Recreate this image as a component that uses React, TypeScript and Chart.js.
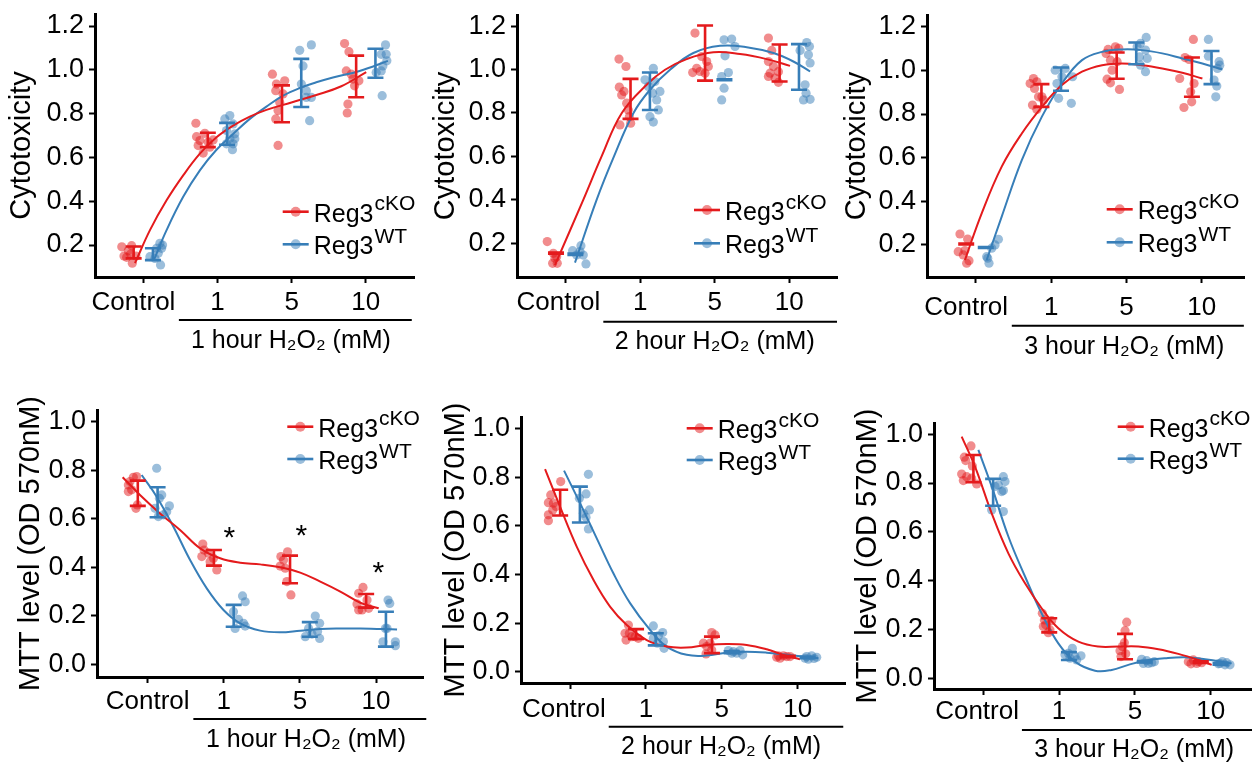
import React, { useEffect, useRef } from 'react';
import { Chart, registerables } from 'chart.js';

Chart.register(...registerables);

const FONT = '"Liberation Sans", Arial, "DejaVu Sans", sans-serif';
Chart.defaults.font.family = FONT;

const RED = '#E41A1C';
const BLUE = '#377EB8';
const RED_PT = 'rgba(228,26,28,0.5)';
const BLUE_PT = 'rgba(55,126,184,0.5)';

// ---------- shared labels ----------
const categories = ['Control', '1', '5', '10'];
const cytoTicks = [0.2, 0.4, 0.6, 0.8, 1.0, 1.2];
const mttTicks = [0.0, 0.2, 0.4, 0.6, 0.8, 1.0];
const cytoTitle = 'Cytotoxicity';
const mttTitle = 'MTT level (OD 570nM)';
const xTitle1 = '1 hour H₂O₂ (mM)';
const xTitle2 = '2 hour H₂O₂ (mM)';
const xTitle3 = '3 hour H₂O₂ (mM)';
const legendBase = 'Reg3';
const legendSupRed = 'cKO';
const legendSupBlue = 'WT';

// ---------- Panel 1: cytotoxicity, 1 hour ----------
const p1RedPts = [
  [-0.29, 0.192], [-0.157, 0.197], [-0.26, 0.15], [-0.148, 0.117], [-0.202, 0.174], [-0.099, 0.15], [-0.17, 0.159], [-0.224, 0.144],
  [0.709, 0.756], [0.718, 0.695], [0.83, 0.71], [0.763, 0.677], [0.875, 0.67], [0.808, 0.62], [0.942, 0.68], [0.74, 0.654], [0.897, 0.647],
  [1.741, 0.98], [1.795, 0.935], [1.786, 0.905], [1.84, 0.851], [1.817, 0.814], [1.786, 0.776], [1.817, 0.655], [1.884, 0.89], [1.907, 0.95],
  [2.714, 1.12], [2.773, 1.083], [2.737, 0.995], [2.827, 0.958], [2.849, 0.927], [2.907, 0.95], [2.759, 0.844], [2.75, 0.803], [2.804, 0.98],
];
const p1BluePts = [
  [0.224, 0.208], [0.18, 0.185], [0.247, 0.185], [0.09, 0.147], [0.202, 0.162], [0.233, 0.109], [0.157, 0.139], [0.26, 0.2],
  [1.099, 0.776], [1.167, 0.791], [1.211, 0.753], [1.122, 0.723], [1.234, 0.708], [1.167, 0.685], [1.211, 0.662], [1.122, 0.662], [1.202, 0.635], [1.234, 0.685],
  [2.109, 1.089], [2.266, 1.114], [2.154, 1.018], [2.198, 0.905], [2.266, 0.874], [2.198, 0.874], [2.243, 0.768], [2.131, 0.935],
  [3.266, 1.114], [3.208, 1.071], [3.275, 1.071], [3.23, 1.018], [3.14, 0.988], [3.208, 0.995], [3.221, 0.882], [3.284, 1.041],
];
const p1RedMean = [0.166, 0.68, 0.845, 0.97];
const p1RedSd = [0.027, 0.033, 0.084, 0.095];
const p1BlueMean = [0.158, 0.708, 0.94, 1.03];
const p1BlueSd = [0.027, 0.05, 0.11, 0.066];
const p1RedCurve = [
  [-0.112, 0.117], [0.09, 0.268], [0.314, 0.404], [0.538, 0.518], [0.763, 0.617], [0.987, 0.692], [1.211, 0.745],
  [1.436, 0.786], [1.66, 0.817], [1.997, 0.851], [2.333, 0.885], [2.67, 0.925], [3.006, 0.99],
];
const p1BlueCurve = [
  [0.144, 0.132], [0.314, 0.268], [0.538, 0.42], [0.763, 0.541], [0.987, 0.635], [1.211, 0.707], [1.436, 0.776],
  [1.66, 0.832], [1.884, 0.882], [2.109, 0.917], [2.333, 0.943], [2.557, 0.965], [2.916, 0.995], [3.298, 1.041],
];

// ---------- Panel 2: cytotoxicity, 2 hour ----------
const p2RedPts = [
  [-0.247, 0.208], [-0.166, 0.154], [-0.121, 0.138], [-0.175, 0.108], [-0.113, 0.108], [-0.144, 0.131],
  [0.715, 1.048], [0.809, 1.014], [0.72, 0.919], [0.751, 0.883], [0.782, 0.899], [0.818, 0.845], [0.84, 0.814], [0.728, 0.745], [0.872, 0.753], [0.854, 0.783],
  [1.735, 1.168], [1.825, 1.06], [1.892, 1.037], [1.758, 1.006], [1.802, 0.991], [1.704, 0.986], [1.87, 0.983], [1.914, 1.014],
  [2.72, 1.145], [2.764, 1.088], [2.72, 1.037], [2.787, 1.014], [2.72, 0.968], [2.809, 0.961], [2.854, 0.941], [2.742, 0.983], [2.854, 0.99],
];
const p2BluePts = [
  [0.093, 0.166], [0.205, 0.189], [0.236, 0.146], [0.272, 0.105], [0.147, 0.146], [0.192, 0.162],
  [1.176, 1.006], [1.064, 0.953], [1.198, 0.945], [1.265, 0.899], [1.167, 0.891], [1.221, 0.86], [1.243, 0.814], [1.131, 0.783], [1.176, 0.758], [1.109, 0.922],
  [2.125, 1.137], [2.227, 1.14], [2.272, 1.106], [2.138, 1.063], [2.183, 0.986], [2.093, 0.968], [2.125, 0.914], [2.093, 0.86],
  [3.234, 1.124], [3.27, 1.106], [3.145, 1.088], [3.257, 1.068], [3.279, 1.03], [3.212, 0.93], [3.19, 0.86], [3.279, 0.863], [3.225, 0.891],
];
const p2RedMean = [0.155, 0.865, 1.076, 1.03];
const p2RedSd = [0.003, 0.092, 0.127, 0.085];
const p2BlueMean = [0.15, 0.9, 0.953, 1.012];
const p2BlueSd = [0.003, 0.086, 0.002, 0.105];
const p2RedCurve = [
  [-0.144, 0.1], [0.236, 0.4], [0.482, 0.6], [0.751, 0.799], [1.086, 0.93], [1.333, 0.999],
  [1.623, 1.048], [1.981, 1.079], [2.339, 1.071], [2.697, 1.048], [3.01, 1.017],
];
const p2BlueCurve = [
  [0.125, 0.111], [0.415, 0.4], [0.648, 0.6], [0.908, 0.799], [1.131, 0.907], [1.4, 0.999],
  [1.713, 1.076], [2.071, 1.109], [2.429, 1.103], [2.787, 1.076], [3.055, 1.037], [3.279, 0.991],
];

// ---------- Panel 3: cytotoxicity, 3 hour ----------
const p3RedPts = [
  [-0.213, 0.25], [-0.111, 0.227], [-0.236, 0.169], [-0.147, 0.174], [-0.169, 0.154], [-0.124, 0.116], [-0.093, 0.128],
  [0.72, 0.94], [0.764, 0.963], [0.809, 0.948], [0.778, 0.917], [0.831, 0.879], [0.876, 0.879], [0.751, 0.841], [0.809, 0.821], [0.898, 0.864],
  [1.756, 1.096], [1.853, 1.108], [1.898, 1.101], [1.729, 1.078], [1.787, 1.047], [1.809, 1.001], [1.742, 0.96], [1.787, 0.943], [1.907, 0.913], [1.876, 1.04],
  [2.889, 1.142], [2.778, 1.059], [2.831, 1.05], [2.707, 0.963], [2.898, 0.94], [2.853, 0.902], [2.764, 0.83], [2.867, 0.856],
];
const p3BluePts = [
  [0.142, 0.146], [0.173, 0.116], [0.253, 0.2], [0.298, 0.226], [0.209, 0.185], [0.156, 0.139],
  [1.053, 1.001], [1.187, 1.009], [1.284, 0.971], [1.142, 0.971], [1.098, 0.872], [1.267, 0.849], [1.076, 0.94],
  [2.262, 1.151], [2.187, 1.124], [2.253, 1.093], [2.173, 1.062], [2.276, 1.055], [2.187, 1.024], [2.253, 0.994], [2.142, 1.108],
  [3.089, 1.142], [3.089, 1.065], [3.231, 1.04], [3.209, 1.009], [3.164, 0.956], [3.2, 0.928], [3.187, 0.879], [3.24, 1.024],
];
const p3RedMean = [0.204, 0.885, 1.022, 0.969];
const p3RedSd = [0.002, 0.052, 0.06, 0.09];
const p3BlueMean = [0.188, 0.96, 1.078, 1.013];
const p3BlueSd = [0.002, 0.053, 0.05, 0.076];
const p3RedCurve = [
  [-0.147, 0.131], [0.076, 0.345], [0.342, 0.559], [0.609, 0.711], [0.876, 0.833], [1.142, 0.933], [1.409, 0.994], [1.676, 1.024],
  [1.942, 1.032], [2.209, 1.024], [2.476, 1.009], [2.742, 0.989], [3.009, 0.963],
];
const p3BlueCurve = [
  [0.142, 0.131], [0.342, 0.33], [0.609, 0.589], [0.876, 0.788], [1.142, 0.94], [1.409, 1.047], [1.676, 1.085], [1.942, 1.096],
  [2.209, 1.093], [2.476, 1.078], [2.742, 1.055], [3.009, 1.032], [3.276, 1.004],
];

// ---------- Panel 4: MTT, 1 hour ----------
const p4RedPts = [
  [-0.254, 0.712], [-0.189, 0.771], [-0.145, 0.774], [-0.254, 0.739], [-0.211, 0.719], [-0.154, 0.643], [-0.136, 0.657], [-0.232, 0.753],
  [0.724, 0.496], [0.711, 0.444], [0.798, 0.458], [0.82, 0.423], [0.864, 0.437], [0.908, 0.389], [0.741, 0.471],
  [1.838, 0.464], [1.75, 0.444], [1.741, 0.405], [1.807, 0.396], [1.829, 0.341], [1.882, 0.286], [1.785, 0.43],
  [2.829, 0.317], [2.772, 0.293], [2.882, 0.265], [2.75, 0.249], [2.816, 0.224], [2.903, 0.231], [2.772, 0.224],
];
const p4BluePts = [
  [0.118, 0.808], [0.154, 0.684], [0.096, 0.643], [0.25, 0.629], [0.285, 0.653], [0.206, 0.616], [0.14, 0.609], [0.184, 0.698],
  [1.246, 0.282], [1.281, 0.258], [1.127, 0.217], [1.193, 0.185], [1.259, 0.169], [1.149, 0.148], [1.281, 0.158],
  [2.202, 0.199], [2.259, 0.169], [2.232, 0.135], [2.259, 0.107], [2.114, 0.148], [2.158, 0.125], [2.07, 0.114],
  [3.158, 0.265], [3.18, 0.251], [3.123, 0.148], [3.092, 0.093], [3.254, 0.093], [3.254, 0.077], [3.145, 0.148],
];
const p4RedMean = [0.705, 0.439, 0.391, 0.262];
const p4RedSd = [0.052, 0.032, 0.057, 0.028];
const p4BlueMean = [0.668, 0.2, 0.144, 0.145];
const p4BlueSd = [0.062, 0.045, 0.03, 0.072];
const p4RedCurve = [
  [-0.329, 0.771], [-0.101, 0.698], [0.162, 0.622], [0.425, 0.554], [0.689, 0.478], [0.952, 0.437], [1.215, 0.419], [1.478, 0.412],
  [1.741, 0.4], [2.004, 0.378], [2.268, 0.341], [2.531, 0.3], [2.794, 0.254], [3.035, 0.231],
];
const p4BlueCurve = [
  [-0.079, 0.78], [0.118, 0.691], [0.338, 0.567], [0.557, 0.43], [0.776, 0.313], [0.996, 0.224], [1.215, 0.169], [1.478, 0.139],
  [1.741, 0.132], [2.004, 0.139], [2.268, 0.146], [2.531, 0.148], [2.794, 0.148], [3.276, 0.144],
];
const p4StarX = [1.074, 2.017, 3.03];
const p4StarY = [0.554, 0.562, 0.409];

// ---------- Panel 5: MTT, 2 hour ----------
const p5RedPts = [
  [-0.123, 0.783], [-0.254, 0.728], [-0.285, 0.696], [-0.219, 0.694], [-0.184, 0.68], [-0.285, 0.646], [-0.285, 0.622], [-0.228, 0.666],
  [0.769, 0.192], [0.725, 0.158], [0.782, 0.158], [0.857, 0.144], [0.738, 0.13], [0.9, 0.137], [0.813, 0.144],
  [1.867, 0.161], [1.911, 0.151], [1.757, 0.117], [1.801, 0.103], [1.867, 0.089], [1.792, 0.073], [1.845, 0.117],
  [2.745, 0.065], [2.811, 0.065], [2.855, 0.062], [2.767, 0.055], [2.899, 0.062], [2.723, 0.059],
];
const p5BluePts = [
  [0.242, 0.813], [0.211, 0.732], [0.123, 0.714], [0.255, 0.666], [0.211, 0.636], [0.242, 0.588], [0.176, 0.652],
  [1.098, 0.188], [1.221, 0.161], [1.164, 0.147], [1.098, 0.137], [1.23, 0.124], [1.239, 0.096], [1.151, 0.117],
  [2.086, 0.087], [2.152, 0.082], [2.24, 0.087], [2.275, 0.069], [2.196, 0.076], [2.13, 0.076],
  [3.096, 0.055], [3.184, 0.065], [3.25, 0.059], [3.14, 0.051], [3.215, 0.054], [3.118, 0.062],
];
const p5RedMean = [0.696, 0.155, 0.11, 0.062];
const p5RedSd = [0.053, 0.02, 0.034, 0.003];
const p5BlueMean = [0.688, 0.133, 0.08, 0.058];
const p5BlueSd = [0.074, 0.025, 0.004, 0.003];
const p5RedCurve = [
  [-0.329, 0.834], [-0.132, 0.68], [0.088, 0.515], [0.308, 0.378], [0.527, 0.268], [0.747, 0.192], [1.01, 0.13], [1.274, 0.103],
  [1.537, 0.099], [1.801, 0.11], [2.064, 0.114], [2.328, 0.11], [2.592, 0.092], [2.811, 0.069], [3.03, 0.051],
];
const p5BlueCurve = [
  [-0.079, 0.828], [0.132, 0.694], [0.352, 0.549], [0.571, 0.405], [0.791, 0.282], [1.054, 0.172], [1.274, 0.103], [1.537, 0.069],
  [1.801, 0.066], [2.064, 0.078], [2.328, 0.082], [2.592, 0.078], [2.855, 0.069], [3.272, 0.055],
];

// ---------- Panel 6: MTT, 3 hour ----------
const p6RedPts = [
  [-0.162, 0.952], [-0.25, 0.906], [-0.232, 0.892], [-0.144, 0.87], [-0.285, 0.837], [-0.263, 0.81], [-0.153, 0.82], [-0.087, 0.796], [-0.219, 0.826],
  [0.779, 0.266], [0.806, 0.239], [0.902, 0.236], [0.823, 0.219], [0.88, 0.198], [0.858, 0.187], [0.792, 0.212],
  [1.892, 0.23], [1.87, 0.195], [1.835, 0.13], [1.804, 0.113], [1.879, 0.1], [1.817, 0.089], [1.861, 0.146],
  [2.705, 0.068], [2.771, 0.075], [2.837, 0.068], [2.881, 0.064], [2.74, 0.059], [2.815, 0.061],
];
const p6BluePts = [
  [0.265, 0.826], [0.287, 0.806], [0.199, 0.792], [0.243, 0.765], [0.265, 0.769], [0.111, 0.69], [0.265, 0.683], [0.155, 0.786],
  [1.175, 0.123], [1.122, 0.102], [1.078, 0.096], [1.21, 0.089], [1.289, 0.092], [1.144, 0.082], [1.232, 0.075],
  [2.09, 0.078], [2.156, 0.072], [2.222, 0.064], [2.112, 0.061], [2.257, 0.068], [2.178, 0.061],
  [3.101, 0.059], [3.154, 0.068], [3.211, 0.064], [3.255, 0.055], [3.189, 0.055], [3.123, 0.061],
];
const p6RedMean = [0.859, 0.217, 0.13, 0.066];
const p6RedSd = [0.056, 0.029, 0.052, 0.003];
const p6BlueMean = [0.762, 0.091, 0.068, 0.059];
const p6BlueSd = [0.055, 0.016, 0.003, 0.003];
const p6RedCurve = [
  [-0.285, 0.99], [-0.109, 0.867], [0.111, 0.676], [0.331, 0.512], [0.551, 0.389], [0.77, 0.287], [0.99, 0.205], [1.254, 0.15],
  [1.518, 0.13], [1.782, 0.13], [2.046, 0.13], [2.31, 0.119], [2.573, 0.1], [2.837, 0.075], [3.013, 0.055],
];
const p6BlueCurve = [
  [-0.065, 0.936], [0.111, 0.786], [0.331, 0.581], [0.551, 0.417], [0.77, 0.266], [0.99, 0.143], [1.21, 0.068], [1.474, 0.031],
  [1.694, 0.034], [1.914, 0.055], [2.134, 0.072], [2.398, 0.082], [2.661, 0.086], [2.925, 0.078], [3.277, 0.061],
];

// ---------- layout constants ----------
const YW = 100; // width of y-axis box (labels + title)
const PT = 30; // canvas space above the plot area
const PR = 12; // canvas space right of plot area
const XH = 90; // space below the plot area
const DODGE = 0.13;
const CAP = 8;
const SP = ' ';
const THIN = '\u2009';

const panels: any[] = [
  {
    L: 95, T: 14, R: 414, B: 277, xMin: -0.651, xMax: 3.65, yMin: 0.054, yMax: 1.255, yTicks: cytoTicks, yTitle: cytoTitle,
    yTitleOff: 73.3, tickOff: 26, ctrlPad: SP + SP + THIN, br: [0.48, 3.62], brDy: 43, xTitle: xTitle1, titleCx: 1.99, titleDy: 64,
    legX: 187.7, legY: 197.7, legGap: 32.6,
    redPts: p1RedPts, bluePts: p1BluePts, redMean: p1RedMean, redSd: p1RedSd, blueMean: p1BlueMean, blueSd: p1BlueSd,
    redCurve: p1RedCurve, blueCurve: p1BlueCurve,
  },
  {
    L: 517, T: 15, R: 837, B: 277, xMin: -0.653, xMax: 3.64, yMin: 0.045, yMax: 1.251, yTicks: cytoTicks, yTitle: cytoTitle,
    yTitleOff: 70.7, tickOff: 26, ctrlPad: SP + SP, br: [0.505, 3.64], brDy: 44.7, xTitle: xTitle2, titleCx: 2.0, titleDy: 65,
    legX: 177, legY: 195, legGap: 33.3,
    redPts: p2RedPts, bluePts: p2BluePts, redMean: p2RedMean, redSd: p2RedSd, blueMean: p2BlueMean, blueSd: p2BlueSd,
    redCurve: p2RedCurve, blueCurve: p2BlueCurve,
  },
  {
    L: 927, T: 15, R: 1244, B: 277, xMin: -0.651, xMax: 3.562, yMin: 0.053, yMax: 1.254, yTicks: cytoTicks, yTitle: cytoTitle,
    yTitleOff: 70.3, tickOff: 31.3, ctrlPad: SP + SP + THIN, br: [0.476, 3.56], brDy: 48.7, xTitle: xTitle3, titleCx: 1.97, titleDy: 69.7,
    legX: 179.7, legY: 194.3, legGap: 33,
    redPts: p3RedPts, bluePts: p3BluePts, redMean: p3RedMean, redSd: p3RedSd, blueMean: p3BlueMean, blueSd: p3BlueSd,
    redCurve: p3RedCurve, blueCurve: p3BlueCurve,
  },
  {
    L: 97, T: 410, R: 423, B: 677, xMin: -0.666, xMax: 3.617, yMin: -0.052, yMax: 1.048, yTicks: mttTicks, yTitle: mttTitle,
    yTitleOff: 66.2, tickOff: 24.7, ctrlPad: '', br: [0.6, 3.66], brDy: 42, xTitle: xTitle1, titleCx: 2.08, titleDy: 63,
    legX: 190.3, legY: 16.7, legGap: 32.3,
    redPts: p4RedPts, bluePts: p4BluePts, redMean: p4RedMean, redSd: p4RedSd, blueMean: p4BlueMean, blueSd: p4BlueSd,
    redCurve: p4RedCurve, blueCurve: p4BlueCurve, starX: p4StarX, starY: p4StarY,
  },
  {
    L: 521, T: 417, R: 845, B: 683, xMin: -0.646, xMax: 3.623, yMin: -0.047, yMax: 1.049, yTicks: mttTicks, yTitle: mttTitle,
    yTitleOff: 65.5, tickOff: 27, ctrlPad: SP + THIN, br: [0.51, 3.6], brDy: 43.7, xTitle: xTitle2, titleCx: 1.99, titleDy: 63.7,
    legX: 165.7, legY: 11.3, legGap: 31.7,
    redPts: p5RedPts, bluePts: p5BluePts, redMean: p5RedMean, redSd: p5RedSd, blueMean: p5BlueMean, blueSd: p5BlueSd,
    redCurve: p5RedCurve, blueCurve: p5BlueCurve,
  },
  {
    L: 934, T: 423, R: 1252, B: 689, xMin: -0.65, xMax: 3.545, yMin: -0.044, yMax: 1.046, yTicks: mttTicks, yTitle: mttTitle,
    yTitleOff: 66.5, tickOff: 22.7, ctrlPad: SP + THIN, br: [0.51, 3.6], brDy: 41, xTitle: xTitle3, titleCx: 1.99, titleDy: 61,
    legX: 183.7, legY: 3.7, legGap: 32,
    redPts: p6RedPts, bluePts: p6BluePts, redMean: p6RedMean, redSd: p6RedSd, blueMean: p6BlueMean, blueSd: p6BlueSd,
    redCurve: p6RedCurve, blueCurve: p6BlueCurve,
  },
];

const Y_TICK_SIZE = 27;
const X_TICK_SIZE = 26;
const Y_TITLE_SIZE = 29;
const X_TITLE_SIZE = 25;
const LEG_SIZE = 25;
const SUP_SIZE = 21;

function makeOverlay(p: any) {
  return {
    id: 'overlay',
    afterDatasetsDraw(chart: any) {
      const { ctx } = chart;
      const xs = chart.scales.x;
      const ys = chart.scales.y;
      const groups = [
        { mean: p.redMean, sd: p.redSd, color: RED, dodge: -DODGE },
        { mean: p.blueMean, sd: p.blueSd, color: BLUE, dodge: DODGE },
      ];
      ctx.save();
      for (const g of groups) {
        ctx.strokeStyle = g.color;
        ctx.lineWidth = 2.6;
        g.mean.forEach((m: number, i: number) => {
          const px = xs.getPixelForValue(i + g.dodge);
          const hi = ys.getPixelForValue(m + g.sd[i]);
          const lo = ys.getPixelForValue(m - g.sd[i]);
          ctx.beginPath();
          ctx.moveTo(px, hi);
          ctx.lineTo(px, lo);
          ctx.moveTo(px - CAP, hi);
          ctx.lineTo(px + CAP, hi);
          ctx.moveTo(px - CAP, lo);
          ctx.lineTo(px + CAP, lo);
          ctx.stroke();
        });
      }
      ctx.restore();
    },
    afterDraw(chart: any) {
      const { ctx, chartArea } = chart;
      const xs = chart.scales.x;
      const ys = chart.scales.y;
      ctx.save();
      // legend
      const rows = [
        { line: RED, pt: RED_PT, sup: legendSupRed },
        { line: BLUE, pt: BLUE_PT, sup: legendSupBlue },
      ];
      rows.forEach((r, i) => {
        const y = chartArea.top + p.legY + i * p.legGap;
        const x0 = chartArea.left + p.legX;
        ctx.strokeStyle = r.line;
        ctx.lineWidth = 2.6;
        ctx.beginPath();
        ctx.moveTo(x0, y);
        ctx.lineTo(x0 + 26, y);
        ctx.stroke();
        ctx.fillStyle = r.pt;
        ctx.beginPath();
        ctx.arc(x0 + 13, y, 5, 0, Math.PI * 2);
        ctx.fill();
        ctx.fillStyle = '#000';
        ctx.textAlign = 'left';
        ctx.textBaseline = 'alphabetic';
        ctx.font = `${LEG_SIZE}px ${FONT}`;
        ctx.fillText(legendBase, x0 + 31, y + 10);
        const w = ctx.measureText(legendBase).width;
        ctx.font = `${SUP_SIZE}px ${FONT}`;
        ctx.fillText(r.sup, x0 + 32 + w, y - 1.5);
      });
      // bracket under dose ticks
      const by = chartArea.bottom + p.brDy;
      ctx.strokeStyle = '#000';
      ctx.lineWidth = 2;
      ctx.beginPath();
      ctx.moveTo(xs.getPixelForValue(p.br[0]), by);
      ctx.lineTo(xs.getPixelForValue(p.br[1]), by);
      ctx.stroke();
      // x title
      ctx.fillStyle = '#000';
      ctx.font = `${X_TITLE_SIZE}px ${FONT}`;
      ctx.textAlign = 'center';
      ctx.textBaseline = 'middle';
      ctx.fillText(p.xTitle, xs.getPixelForValue(p.titleCx), chartArea.bottom + p.titleDy);
      // significance stars
      if (p.starX) {
        ctx.font = `30px ${FONT}`;
        ctx.textBaseline = 'alphabetic';
        p.starX.forEach((sx: number, i: number) => {
          ctx.fillText('*', xs.getPixelForValue(sx), ys.getPixelForValue(p.starY[i]) + 17);
        });
      }
      ctx.restore();
    },
  };
}

function Panel({ p }: { p: any }) {
  const ref = useRef<HTMLCanvasElement>(null);
  const W = YW + (p.R - p.L) + PR;
  const H = PT + (p.B - p.T) + XH;
  useEffect(() => {
    const canvas = ref.current;
    if (!canvas) return;
    const toXY = (arr: number[][]) => arr.map(([x, y]) => ({ x, y }));
    const chart = new Chart(canvas, {
      type: 'scatter',
      data: {
        datasets: [
          { type: 'line', data: toXY(p.redCurve), borderColor: RED, borderWidth: 2, pointRadius: 0, tension: 0.4, fill: false },
          { type: 'line', data: toXY(p.blueCurve), borderColor: BLUE, borderWidth: 2, pointRadius: 0, tension: 0.4, fill: false },
          { type: 'scatter', data: toXY(p.redPts), pointRadius: 4.6, pointBackgroundColor: RED_PT, pointBorderWidth: 0, borderColor: 'rgba(0,0,0,0)' },
          { type: 'scatter', data: toXY(p.bluePts), pointRadius: 4.6, pointBackgroundColor: BLUE_PT, pointBorderWidth: 0, borderColor: 'rgba(0,0,0,0)' },
        ],
      } as any,
      options: {
        responsive: false,
        animation: false,
        events: [],
        layout: { padding: { left: 0, top: PT, right: PR, bottom: 0 } },
        plugins: { legend: { display: false }, tooltip: { enabled: false } },
        scales: {
          x: {
            type: 'linear',
            min: p.xMin,
            max: p.xMax,
            afterBuildTicks: (s: any) => {
              s.ticks = categories.map((_, i) => ({ value: i }));
            },
            afterFit: (s: any) => {
              s.height = XH;
            },
            ticks: {
              callback: (v: any) => {
                const i = Math.round(v);
                return i === 0 ? categories[0] + p.ctrlPad : categories[i];
              },
              font: { size: X_TICK_SIZE, family: FONT },
              color: '#000',
              padding: p.tickOff - 6 - X_TICK_SIZE * 0.6,
              autoSkip: false,
              maxRotation: 0,
            },
            grid: { display: true, drawOnChartArea: false, drawTicks: true, tickLength: 6, tickWidth: 2, tickColor: '#000' },
            border: { display: true, color: '#000', width: 3 },
          },
          y: {
            type: 'linear',
            min: p.yMin,
            max: p.yMax,
            afterBuildTicks: (s: any) => {
              s.ticks = p.yTicks.map((v: number) => ({ value: v }));
            },
            afterFit: (s: any) => {
              s.width = YW;
            },
            ticks: {
              callback: (v: any) => Number(v).toFixed(1),
              font: { size: Y_TICK_SIZE, family: FONT },
              color: '#000',
              padding: 5,
            },
            grid: { display: true, drawOnChartArea: false, drawTicks: true, tickLength: 6, tickWidth: 2, tickColor: '#000' },
            border: { display: true, color: '#000', width: 3 },
            title: {
              display: true,
              text: p.yTitle,
              color: '#000',
              font: { size: Y_TITLE_SIZE, family: FONT },
              padding: { top: YW - p.yTitleOff - Y_TITLE_SIZE * 0.6, bottom: 0 },
            },
          },
        },
      } as any,
      plugins: [makeOverlay(p)],
    });
    return () => chart.destroy();
  }, []);
  return (
    <canvas
      ref={ref}
      width={W}
      height={H}
      style={{ position: 'absolute', left: p.L - YW, top: p.T - PT, width: W, height: H }}
    />
  );
}

export default function App() {
  return (
    <div style={{ position: 'absolute', left: 0, top: 0, width: 1252, height: 763, overflow: 'hidden', background: '#fff' }}>
      {panels.map((p, i) => (
        <Panel key={i} p={p} />
      ))}
    </div>
  );
}
